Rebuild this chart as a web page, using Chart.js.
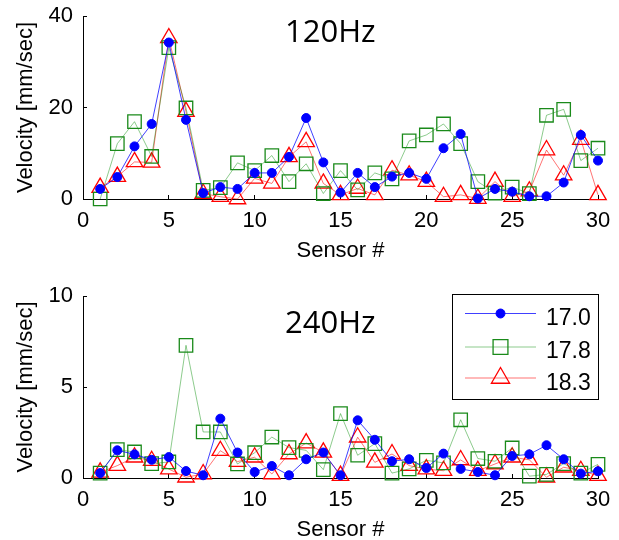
<!DOCTYPE html>
<html><head><meta charset="utf-8">
<script src="https://cdn.jsdelivr.net/npm/chart.js@4"></script>
<style>
html,body{margin:0;padding:0;background:#fff;}
#wrap{position:relative;width:619px;height:540px;overflow:hidden;}
canvas{position:absolute;left:0;}
</style></head><body>
<div id="wrap">
<canvas id="top" width="619" height="270" style="top:0"></canvas>
<canvas id="bot" width="619" height="270" style="top:270px"></canvas>
</div>
<script>
const sensors = [1,2,3,4,5,6,7,8,9,10,11,12,13,14,15,16,17,18,19,20,21,22,23,24,25,26,27,28,29,30];
const seriesLabels = ['17.0','17.8','18.3'];
const panelTitles = ['120Hz','240Hz'];
const xTicks = [0,5,10,15,20,25,30];
const yTicksTop = [0,20,40];
const yTicksBot = [0,5,10];

const blue120  = [2.2,4.8,11.5,16.4,34.2,17.3,1.3,2.6,2.2,5.7,5.7,9.2,17.7,8.0,1.4,5.7,2.6,4.9,5.7,4.4,11.1,14.2,0.1,2.2,1.6,0.6,0.6,3.6,14.0,8.4];
const green120 = [0,12.1,16.9,9.3,33.1,19.9,1.9,2.5,7.9,6.2,9.5,3.8,7.7,1.2,6.2,2.0,5.7,4.4,12.7,14.0,16.4,12.1,3.8,1.3,2.6,1.2,18.3,19.6,8.4,11.1];
const red120   = [2.5,4.9,8.1,8.0,35.2,19.1,1.2,0.5,0,4.5,3.4,9.2,12.5,3.4,0.9,2.3,0.9,6.3,5.2,3.8,0.5,0.9,0.1,3.8,0.5,1.7,10.7,5.2,13.0,0.9];

const blue240  = [0.27,1.52,1.30,1.0,1.15,0.38,0.15,3.26,1.4,0.33,0.66,0.15,1.03,1.4,0.15,3.17,2.1,0.92,1.03,0.55,1.34,0.5,0.33,0.15,1.21,1.3,1.8,1.03,0.24,0.37];
const green240 = [0.27,1.56,1.43,0.79,0.88,7.29,2.53,2.53,0.77,1.39,2.25,1.67,1.52,0.46,3.54,1.25,1.89,0.27,0.5,0.97,0.83,3.2,1.07,0.92,1.65,0.1,0.2,0.79,0.27,0.75];
const red240   = [0.31,0.68,1.14,0.95,0.49,0.04,0.22,1.5,0.9,1.14,0.22,1.32,1.92,1.41,0.13,2.24,0.86,1.32,0.68,0.49,0.4,0.99,0.4,0.77,1.14,1.0,0.04,0.59,0.4,0.13];

const FONT = "'Liberation Sans', Arial, sans-serif";
const styles = [
  {borderColor:'rgba(0,0,255,0.75)', pointBorderColor:'#0000ff', pointBackgroundColor:'#0000ff', pointStyle:'circle', pointRadius:4.5, pointBorderWidth:1},
  {borderColor:'rgba(0,140,0,0.45)', pointBorderColor:'#1a8a1a', pointBackgroundColor:'rgba(0,0,0,0)', pointStyle:'rect', pointRadius:9.5, pointBorderWidth:1.3},
  {borderColor:'rgba(255,0,0,0.55)', pointBorderColor:'#ff0000', pointBackgroundColor:'rgba(0,0,0,0)', pointStyle:'triangle', pointRadius:9.5, pointBorderWidth:1.3}
];

function mk(vals, i){
  return Object.assign({
    label: seriesLabels[i],
    data: sensors.map((s,k)=>({x:s, y:vals[k]})),
    borderWidth: 1,
    tension: 0,
    clip: false
  }, styles[i]);
}

const overlay = {
  id: 'overlay',
  afterDraw(chart, args, o) {
    const ctx = chart.ctx;
    ctx.save();
    ctx.fillStyle = '#000';
    ctx.font = "31px 'Open Sans', sans-serif";
    ctx.textAlign = 'left';
    ctx.textBaseline = 'alphabetic';
    ctx.fillText(o.title, 285, o.titleBase);
    if (o.legend) {
      ctx.strokeStyle = '#000';
      ctx.lineWidth = 1;
      ctx.strokeRect(452.5, 24.5, 146, 105);
      const rows = [43.5, 77, 108];
      const bases = [54.5, 88, 119.5];
      chart.data.datasets.forEach((ds, i) => {
        const y = rows[i];
        ctx.strokeStyle = ds.borderColor;
        ctx.lineWidth = 1;
        ctx.beginPath(); ctx.moveTo(465, y); ctx.lineTo(536, y); ctx.stroke();
        ctx.strokeStyle = ds.pointBorderColor;
        ctx.fillStyle = ds.pointBackgroundColor;
        ctx.lineWidth = ds.pointBorderWidth;
        Chart.helpers.drawPoint(ctx, {pointStyle: ds.pointStyle, radius: i===0 ? 4.5 : 10.5, rotation: 0, borderWidth: ds.pointBorderWidth}, 500.5, y);
        ctx.fillStyle = '#000';
        ctx.font = '23px ' + FONT;
        ctx.textAlign = 'left';
        ctx.textBaseline = 'alphabetic';
        ctx.fillText(ds.label, 546, bases[i]);
      });
    }
    ctx.restore();
  }
};

function build(id, sets, yMax, yTicks, pad, title, titleBase, legend){
  return new Chart(document.getElementById(id), {
    type: 'line',
    data: { datasets: sets },
    plugins: [overlay],
    options: {
      responsive: false,
      animation: false,
      devicePixelRatio: 1,
      layout: { padding: pad },
      plugins: {
        legend: { display: false },
        tooltip: { enabled: false },
        overlay: { title: title, titleBase: titleBase, legend: legend }
      },
      scales: {
        x: {
          type: 'linear', min: 0, max: 30,
          afterFit(s){ s.height = 62; s.paddingLeft = 0; s.paddingRight = 0; s.paddingTop = 0; s.paddingBottom = 0; },
          afterBuildTicks(s){ s.ticks = xTicks.map(v=>({value:v})); },
          border: { color: '#000', width: 1 },
          grid: { drawOnChartArea: false, drawTicks: true, tickLength: -4, color: '#000' },
          ticks: { color: '#000', padding: 13, maxRotation: 0, font: { family: FONT, size: 22 } },
          title: { display: true, text: 'Sensor #', color: '#000', padding: {top:0, bottom:-3}, font: { family: FONT, size: 22 } }
        },
        y: {
          type: 'linear', min: 0, max: yMax,
          afterFit(s){ s.width = 83; s.paddingLeft = 0; s.paddingRight = 0; s.paddingTop = 0; s.paddingBottom = 0; },
          afterBuildTicks(s){ s.ticks = yTicks.map(v=>({value:v})); },
          border: { color: '#000', width: 1 },
          grid: { drawOnChartArea: false, drawTicks: true, tickLength: -4, color: '#000' },
          ticks: { color: '#000', padding: 14, font: { family: FONT, size: 22 } },
          title: { display: true, text: 'Velocity [mm/sec]', color: '#000', padding: {top:13, bottom:0}, font: { family: FONT, size: 22 } }
        }
      }
    }
  });
}

build('top', [mk(blue120,0), mk(green120,1), mk(red120,2)], 40, yTicksTop, {left:0, right:21, top:16, bottom:9}, panelTitles[0], 41.7, false);
build('bot', [mk(blue240,0), mk(green240,1), mk(red240,2)], 10, yTicksBot, {left:0, right:21, top:26, bottom:0}, panelTitles[1], 63.3, true);
</script>
</body></html>
